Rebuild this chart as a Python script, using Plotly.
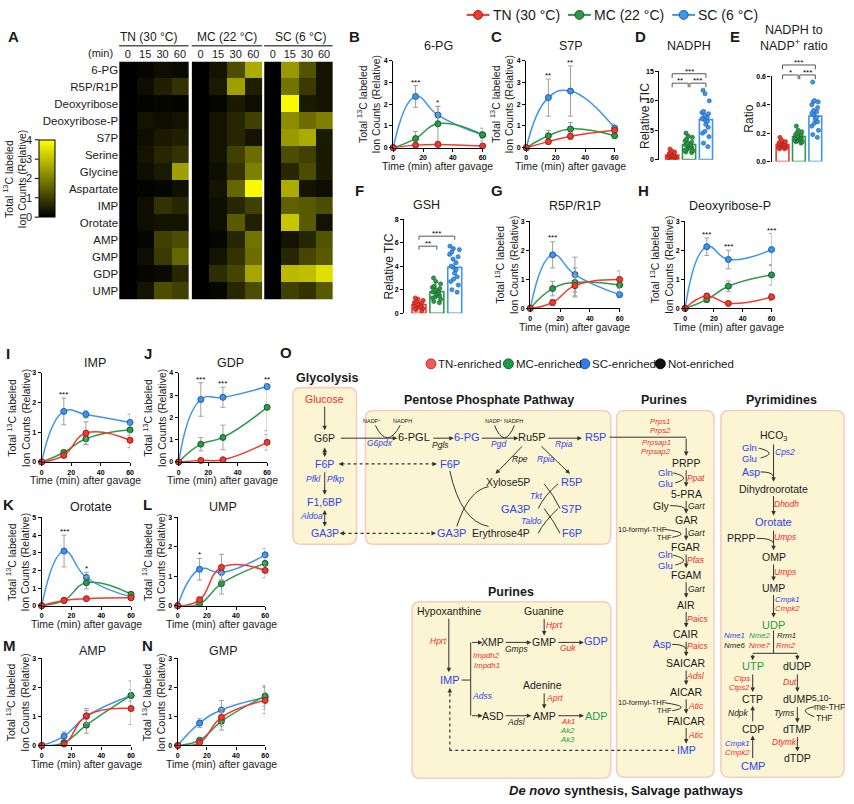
import plotly.graph_objects as go

W, H = 854, 804
FONT = "Liberation Sans, Arial, Helvetica, sans-serif"


def X(p):
    return p / W


def Y(p):
    return 1 - p / H


C = {'TN': '#f03a30', 'MC': '#2c9a48', 'SC': '#3d95ee'}
EDGE = {'TN': '#9e1c16', 'MC': '#145c28', 'SC': '#1b5aa8'}
BLUE = '#2d44ea'
RED = '#ee2d2d'
GREEN = '#23a04b'
K = '#1a1a1a'

# ---------------- data ----------------
times = [0, 15, 30, 60]
time_labels = ['0', '15', '30', '60']
groups = ['TN', 'MC', 'SC']
group_names = ['TN (30 °C)', 'MC (22 °C)', 'SC (6 °C)']

heat_rows = ['6-PG', 'R5P/R1P', 'Deoxyribose', 'Deoxyribose-P', 'S7P', 'Serine', 'Glycine',
             'Aspartate', 'IMP', 'Orotate', 'AMP', 'GMP', 'GDP', 'UMP']
heat_tn = [[0.0, 0.1, 0.2, 0.15], [0.0, 0.2, 0.5, 0.8], [0.0, 0.05, 0.1, 0.05], [0.0, 0.3, 0.2, 0.3],
           [0.0, 0.2, 0.4, 0.5], [0.0, 0.3, 0.6, 0.8], [0.0, 0.2, 0.4, 2.5], [0.0, 0.05, 0.1, 0.25],
           [0.0, 0.2, 0.8, 0.6], [0.0, 0.2, 0.3, 0.3], [0.0, 0.1, 1.0, 1.2], [0.0, 0.2, 0.9, 1.6],
           [0.0, 0.1, 0.15, 0.6], [0.0, 0.3, 1.2, 1.0]]
heat_mc = [[0.0, 0.3, 1.2, 2.7], [0.0, 0.4, 2.5, 0.5], [0.0, 0.1, 0.4, 0.2], [0.0, 0.3, 0.6, 1.0],
           [0.0, 0.3, 0.6, 0.3], [0.0, 0.3, 1.0, 1.7], [0.0, 0.2, 0.8, 2.0], [0.0, 0.3, 1.6, 3.9],
           [0.0, 0.2, 0.6, 1.0], [0.0, 0.2, 1.4, 0.5], [0.0, 0.1, 0.6, 1.8], [0.0, 0.3, 0.8, 1.7],
           [0.0, 0.7, 1.1, 2.6], [0.0, 0.1, 0.6, 1.2]]
heat_sc = [[0.0, 2.4, 1.3, 0.3], [0.0, 1.8, 0.9, 0.3], [0.0, 3.9, 0.4, 0.3], [0.0, 2.2, 1.7, 2.0],
           [0.0, 2.4, 2.7, 0.4], [0.0, 1.2, 1.0, 0.4], [0.0, 0.6, 1.2, 0.4], [0.0, 2.7, 0.3, 0.2],
           [0.0, 1.5, 1.4, 1.2], [0.0, 3.1, 1.4, 0.3], [0.0, 0.3, 0.6, 1.3], [0.0, 0.6, 1.1, 1.4],
           [0.0, 2.9, 3.0, 3.5], [0.0, 1.0, 0.8, 1.4]]
colorbar_ticks = [0, 1, 2, 3, 4]

pg6_mean = {'TN': [0, 0.12, 0.15, 0.08], 'MC': [0, 0.42, 1.1, 0.6], 'SC': [0, 2.35, 1.5, 0.58]}
pg6_err = {'TN': [0, 0.04, 0.05, 0.04], 'MC': [0, 0.33, 0.8, 0.3], 'SC': [0, 0.5, 0.4, 0.15]}
pg6_stars = [(15, 2.85, '***'), (30, 1.9, '*')]

s7p_mean = {'TN': [0, 0.28, 0.53, 0.8], 'MC': [0, 0.55, 0.86, 0.55], 'SC': [0, 2.3, 2.6, 0.9]}
s7p_err = {'TN': [0, 0.1, 0.15, 0.1], 'MC': [0, 0.25, 0.3, 0.1], 'SC': [0, 0.85, 1.15, 0.2]}
s7p_stars = [(15, 3.15, '**'), (30, 3.75, '**')]

r5p_mean = {'TN': [0, 0.2, 0.78, 0.99], 'MC': [0, 0.68, 0.89, 0.8], 'SC': [0, 1.84, 1.16, 0.47]}
r5p_err = {'TN': [0, 0.1, 0.35, 0.3], 'MC': [0, 0.25, 0.5, 0.3], 'SC': [0, 0.45, 0.6, 0.1]}
r5p_stars = [(15, 2.3, '***')]

drp_mean = {'TN': [0, 0.42, 0.17, 0.39], 'MC': [0, 0.3, 0.76, 1.15], 'SC': [0, 2.12, 1.68, 2.02]}
drp_err = {'TN': [0, 0.1, 0.05, 0.12], 'MC': [0, 0.1, 0.18, 0.35], 'SC': [0, 0.3, 0.32, 0.55]}
drp_stars = [(15, 2.42, '***'), (30, 2.0, '***'), (60, 2.57, '***')]

imp_mean = {'TN': [0, 0.22, 0.97, 0.73], 'MC': [0, 0.32, 0.78, 1.08], 'SC': [0, 1.7, 1.6, 1.33]}
imp_err = {'TN': [0, 0.05, 0.38, 0.25], 'MC': [0, 0.08, 0.2, 0.2], 'SC': [0, 0.45, 0.12, 0.28]}
imp_stars = [(15, 2.15, '***')]

gdp_mean = {'TN': [0, 0.07, 0.1, 0.88], 'MC': [0, 0.8, 1.1, 2.45], 'SC': [0, 2.8, 2.9, 3.38]}
gdp_err = {'TN': [0, 0.03, 0.05, 0.35], 'MC': [0, 0.3, 0.55, 1.05], 'SC': [0, 0.75, 0.45, 0.15]}
gdp_stars = [(15, 3.55, '***'), (30, 3.35, '***'), (60, 3.53, '**')]

oro_mean = {'TN': [0, 0.3, 0.4, 0.45], 'MC': [0, 0.3, 1.3, 0.65], 'SC': [0, 3.1, 1.6, 0.5]}
oro_err = {'TN': [0, 0.08, 0.1, 0.1], 'MC': [0, 0.08, 0.35, 0.15], 'SC': [0, 0.9, 0.3, 0.1]}
oro_stars = [(15, 4.0, '***'), (30, 1.9, '*')]

ump_mean = {'TN': [0, 0.2, 1.3, 1.2], 'MC': [0, 0.07, 0.75, 1.44], 'SC': [0, 1.24, 1.13, 1.73]}
ump_err = {'TN': [0, 0.1, 0.45, 0.25], 'MC': [0, 0.05, 0.35, 0.25], 'SC': [0, 0.37, 0.25, 0.22]}
ump_stars = [(15, 1.61, '*')]

amp_mean = {'TN': [0, 0.05, 1.02, 1.27], 'MC': [0, 0.1, 0.7, 1.72], 'SC': [0, 0.32, 1.0, 1.72]}
amp_err = {'TN': [0, 0.05, 0.25, 0.55], 'MC': [0, 0.05, 0.28, 0.2], 'SC': [0, 0.15, 0.2, 0.5]}

gmp_mean = {'TN': [0, 0.1, 0.97, 1.55], 'MC': [0, 0.18, 0.83, 1.7], 'SC': [0, 0.77, 1.22, 1.65]}
gmp_err = {'TN': [0, 0.05, 0.3, 0.45], 'MC': [0, 0.05, 0.3, 0.35], 'SC': [0, 0.15, 0.33, 0.4]}

nadph_tn = [1.8, 1.5, 1.3, 1.2, 1.0, 1.0, 0.9, 0.8, 0.8, 0.7, 0.6, 0.6, 0.5, 0.5, 0.4, 0.4, 0.3, 0.3]
nadph_mc = [4.5, 4.0, 3.8, 3.5, 3.2, 3.0, 2.8, 2.6, 2.5, 2.4, 2.3, 2.1, 2.0, 1.8, 1.6, 1.5, 1.3, 1.2]
nadph_sc = [11.8, 11.2, 10.0, 8.2, 8.0, 7.8, 7.5, 7.2, 7.0, 6.8, 6.5, 6.0, 5.5, 4.8, 4.5, 3.9, 2.8, 2.2]
nadph_bar = [0.8, 2.55, 6.8]
nadph_sem = [0.1, 0.2, 0.6]

ratio_tn = [0.17, 0.15, 0.14, 0.14, 0.13, 0.13, 0.13, 0.12, 0.12, 0.12, 0.11, 0.11, 0.11, 0.10, 0.10, 0.10, 0.09, 0.09]
ratio_mc = [0.25, 0.22, 0.21, 0.20, 0.19, 0.19, 0.18, 0.18, 0.17, 0.17, 0.17, 0.16, 0.16, 0.15, 0.15, 0.14, 0.14, 0.13]
ratio_sc = [0.56, 0.43, 0.42, 0.42, 0.40, 0.38, 0.36, 0.35, 0.34, 0.33, 0.31, 0.30, 0.28, 0.27, 0.25, 0.22, 0.19, 0.17]
ratio_bar = [0.12, 0.176, 0.32]
ratio_sem = [0.005, 0.008, 0.025]

gsh_tn = [1.3, 1.2, 1.1, 1.0, 0.9, 0.9, 0.8, 0.8, 0.7, 0.7, 0.6, 0.6, 0.5, 0.5, 0.4, 0.4, 0.3, 0.2]
gsh_mc = [3.0, 2.7, 2.5, 2.3, 2.2, 2.1, 2.0, 1.9, 1.8, 1.8, 1.7, 1.6, 1.5, 1.4, 1.3, 1.2, 1.0, 0.9]
gsh_sc = [5.7, 5.5, 5.4, 5.2, 5.0, 4.8, 4.6, 4.3, 4.0, 3.9, 3.7, 3.4, 3.1, 2.9, 2.7, 2.4, 2.0, 1.8]
gsh_bar = [0.72, 1.83, 3.9]
gsh_sem = [0.07, 0.12, 0.3]

# ---------------- figure scaffolding ----------------
fig = go.Figure()
layout = dict(width=W, height=H, margin=dict(l=0, r=0, t=0, b=0), paper_bgcolor='white',
              plot_bgcolor='rgba(0,0,0,0)', showlegend=False, font=dict(family=FONT, color=K))
ann = []
shapes = []
axn = [0]


def new_axes():
    axn[0] += 1
    n = axn[0]
    s = '' if n == 1 else str(n)
    return 'x' + s, 'y' + s, 'xaxis' + s, 'yaxis' + s


def T(x, y, s, size=10.5, color=K, xanchor='center', yanchor='middle', angle=0):
    ann.append(dict(x=X(x), y=Y(y), xref='paper', yref='paper', text=s, showarrow=False,
                    font=dict(size=size, color=color, family=FONT), xanchor=xanchor, yanchor=yanchor,
                    textangle=angle, borderpad=0))


def A(x0, y0, x1, y1, color='#333', both=False, size=0.9):
    ann.append(dict(x=X(x1), y=Y(y1), xref='paper', yref='paper', ax=x0 - x1, ay=y0 - y1,
                    axref='pixel', ayref='pixel', text='', showarrow=True, arrowhead=2, arrowsize=size,
                    arrowwidth=1, arrowcolor=color, arrowside='end+start' if both else 'end',
                    standoff=0, startstandoff=0))


def L(x0, y0, x1, y1, color='#333', dash=None, width=1):
    shapes.append(dict(type='line', xref='paper', yref='paper', x0=X(x0), y0=Y(y0), x1=X(x1), y1=Y(y1),
                       line=dict(color=color, width=width, dash=dash)))


def Q(x0, y0, cx, cy, x1, y1, color='#333', width=1):
    shapes.append(dict(type='path', xref='paper', yref='paper',
                       path=f"M {X(x0)},{Y(y0)} Q {X(cx)},{Y(cy)} {X(x1)},{Y(y1)}",
                       line=dict(color=color, width=width)))


def DA(x0, y, x1):
    L(x0 + 3, y, x1 - 3, y, dash='dot', width=1.2)
    A(x0 + 5, y, x0, y)
    A(x1 - 5, y, x1, y)


def RB(x0, y0, x1, y1, r=8):
    p = (f"M {X(x0 + r)},{Y(y0)} L {X(x1 - r)},{Y(y0)} Q {X(x1)},{Y(y0)} {X(x1)},{Y(y0 + r)} "
         f"L {X(x1)},{Y(y1 - r)} Q {X(x1)},{Y(y1)} {X(x1 - r)},{Y(y1)} L {X(x0 + r)},{Y(y1)} "
         f"Q {X(x0)},{Y(y1)} {X(x0)},{Y(y1 - r)} L {X(x0)},{Y(y0 + r)} Q {X(x0)},{Y(y0)} {X(x0 + r)},{Y(y0)} Z")
    shapes.append(dict(type='path', xref='paper', yref='paper', path=p, fillcolor='#fcf5d3',
                       line=dict(color='#f6cdc0', width=1.6), layer='below'))


def circ(cx, cy, r, fill, edge):
    shapes.append(dict(type='circle', xref='paper', yref='paper', x0=X(cx - r), x1=X(cx + r),
                       y0=Y(cy + r), y1=Y(cy - r), fillcolor=fill, line=dict(color=edge, width=1)))


AX_STYLE = dict(showline=True, linecolor='black', linewidth=1.3, ticks='outside', ticklen=3, tickwidth=1.2,
                tickcolor='black', tickfont=dict(size=7, weight='bold', color='black', family=FONT),
                showgrid=False, zeroline=False, fixedrange=True)

# ---------------- top legend ----------------
for g, name, lx in zip(groups, group_names, [468, 570, 675]):
    L(lx, 11, lx + 23, 11, color=C[g], width=2)
    circ(lx + 11.5, 11, 4.5, C[g], EDGE[g])
    T(lx + 25, 11, name, 14, xanchor='left')

# ---------------- panel A heatmap ----------------
heat_boxes = [(118, 188), (191, 262), (264, 333)]
cscale = [[0, '#000000'], [1, '#ffff00']]
for i, (z, (hx0, hx1)) in enumerate(zip([heat_tn, heat_mc, heat_sc], heat_boxes)):
    xr, yr, xk, yk = new_axes()
    layout[xk] = dict(domain=[X(hx0), X(hx1)], anchor=yr, side='top', type='category', ticks='',
                      tickfont=dict(size=11, color=K), showgrid=False, zeroline=False, showline=False,
                      fixedrange=True)
    layout[yk] = dict(domain=[Y(298), Y(58)], anchor=xr, autorange='reversed', type='category', ticks='',
                      showticklabels=(i == 0), tickfont=dict(size=11.5, color=K), showgrid=False,
                      zeroline=False, showline=False, fixedrange=True)
    tr = go.Heatmap(z=z, x=time_labels, y=heat_rows, colorscale=cscale, zmin=0, zmax=4, xaxis=xr, yaxis=yr,
                    showscale=(i == 0))
    if i == 0:
        tr.colorbar = dict(x=X(37), xanchor='left', y=Y(176), yanchor='middle', len=(215 - 137) / H,
                           lenmode='fraction', thickness=16, thicknessmode='pixels', outlinewidth=1,
                           outlinecolor='black', showticklabels=False, ticks='', xpad=0, ypad=0)
    fig.add_trace(tr)
    cx = (hx0 + hx1) / 2
    T(cx - (5 if i == 0 else 0) + (2 if i == 2 else 0), 33, group_names[i], 12)
    L(hx0, 42, hx1, 42, color='#555', width=1.5)
T(113, 49, '(min)', 11, xanchor='right')
for v in colorbar_ticks:
    yy = 215 - v * 19.5
    L(33, yy, 37, yy, color='black', width=1)
    T(31, yy, str(v), 11, xanchor='right')
T(13, 176, 'Total <sup>13</sup>C labeled<br>Ion Counts (Relative)', 10.5, angle=-90)
T(12, 33, '<b>A</b>', 15)


# ---------------- line panels ----------------
def line_panel(mean, err, stars, ymax, box, title, title_xy, letter, letter_xy, ytitle_x):
    x0, x1, yt, yb = box
    xr, yr, xk, yk = new_axes()
    layout[xk] = dict(domain=[X(x0), X(x1)], anchor=yr, range=[0, 60], tickvals=[0, 20, 40, 60], **AX_STYLE)
    layout[yk] = dict(domain=[Y(yb), Y(yt)], anchor=xr, range=[0, ymax], tickvals=list(range(0, ymax + 1)),
                      **AX_STYLE)
    for g in ['SC', 'MC', 'TN']:
        fig.add_trace(go.Scatter(x=times, y=mean[g], mode='lines+markers', cliponaxis=False,
                                 line=dict(color=C[g], width=1.5, shape='spline', smoothing=1.3),
                                 marker=dict(size=6, color=C[g], line=dict(color=EDGE[g], width=1)),
                                 error_y=dict(type='data', array=err[g], color='#a0a0a0', thickness=1,
                                              width=2.5),
                                 xaxis=xr, yaxis=yr))
    for sx, sy, s in stars:
        px_ = x0 + sx / 60 * (x1 - x0)
        py_ = yb - sy / ymax * (yb - yt)
        T(px_, py_ + 2, s, 8, 'black', yanchor='bottom')
    T(title_xy[0], title_xy[1], title, 12.5)
    T(letter_xy[0], letter_xy[1], '<b>' + letter + '</b>', 15)
    T(ytitle_x, (yt + yb) / 2, 'Total <sup>13</sup>C labeled<br>Ion Counts (Relative)', 10.5, angle=-90)
    T((x0 + x1) / 2, yb + 18.5, 'Time (min) after gavage', 10.5)


line_panel(pg6_mean, pg6_err, pg6_stars, 4, (394, 484, 57, 145), '6-PG', (440, 42), 'B', (355, 33), 369)
line_panel(s7p_mean, s7p_err, s7p_stars, 4, (528, 617, 57, 145), 'S7P', (573, 42), 'C', (498, 33), 503)
line_panel(r5p_mean, r5p_err, r5p_stars, 3, (532, 622, 219, 307), 'R5P/R1P', (577, 204), 'G', (499, 188), 508)
line_panel(drp_mean, drp_err, drp_stars, 3, (688, 775, 219, 307), 'Deoxyribose-P', (733, 204), 'H', (646, 188), 664)
line_panel(imp_mean, imp_err, imp_stars, 3, (40, 129, 372, 462), 'IMP', (94, 362), 'I', (6, 353), 16)
line_panel(gdp_mean, gdp_err, gdp_stars, 4, (178, 267, 372, 462), 'GDP', (230, 362), 'J', (147, 353), 153)
line_panel(oro_mean, oro_err, oro_stars, 5, (40, 130, 518, 607), 'Orotate', (90, 507), 'K', (7, 505), 16)
line_panel(ump_mean, ump_err, ump_stars, 3, (177, 265, 518, 607), 'UMP', (223, 507), 'L', (147, 505), 153)
line_panel(amp_mean, amp_err, [], 3, (40, 130, 660, 748), 'AMP', (91, 653), 'M', (8, 647), 16)
line_panel(gmp_mean, gmp_err, [], 3, (177, 265, 660, 748), 'GMP', (223, 653), 'N', (147, 647), 153)


# ---------------- bar panels ----------------
def bar_panel(points, means, sems, brackets, ymax, tickvals, ticktext, box, xmin, spacing, title, title_xy,
              letter, letter_xy, ytitle, ytitle_x):
    x0, yt, yb = box
    x1 = x0 + (2.6 - xmin) * spacing
    xr, yr, xk, yk = new_axes()
    layout[xk] = dict(domain=[X(x0), X(x1)], anchor=yr, range=[xmin, 2.6], visible=False, fixedrange=True)
    layout[yk] = dict(domain=[Y(yb), Y(yt)], anchor=xr, range=[0, ymax], tickvals=tickvals, ticktext=ticktext,
                      **AX_STYLE)
    fig.add_trace(go.Bar(x=[0, 1, 2], y=means, width=0.78, xaxis=xr, yaxis=yr,
                         marker=dict(color='white', line=dict(color=[C[g] for g in groups], width=1.6)),
                         error_y=dict(type='data', array=sems, color='#888', thickness=1, width=2)))
    for k, g in enumerate(groups):
        fig.add_trace(go.Box(x=[k] * len(points[k]), y=points[k], boxpoints='all', jitter=1, pointpos=0,
                             width=0.62, fillcolor='rgba(0,0,0,0)', line=dict(color='rgba(0,0,0,0)', width=0),
                             marker=dict(size=4.2, color=C[g], line=dict(color=EDGE[g], width=0.6)),
                             xaxis=xr, yaxis=yr))

    def bx(v):
        return x0 + (v - xmin) * spacing

    def by(v):
        return yb - v / ymax * (yb - yt)

    for xa, xb, yv, drop, s in brackets:
        shapes.append(dict(type='path', xref='paper', yref='paper',
                           path=(f"M {X(bx(xa))},{Y(by(yv - drop))} L {X(bx(xa))},{Y(by(yv))} "
                                 f"L {X(bx(xb))},{Y(by(yv))} L {X(bx(xb))},{Y(by(yv - drop))}"),
                           line=dict(color='#555', width=1)))
        T((bx(xa) + bx(xb)) / 2, by(yv) + 3, s, 8, 'black', yanchor='bottom')
    T(title_xy[0], title_xy[1], title, 12.5)
    T(letter_xy[0], letter_xy[1], '<b>' + letter + '</b>', 15)
    T(ytitle_x, (yt + yb) / 2, ytitle, 12, angle=-90)


bar_panel([nadph_tn, nadph_mc, nadph_sc], nadph_bar, nadph_sem,
          [(0, 0.95, 13.0, 0.7, '**'), (1.05, 2, 13.0, 0.7, '***'), (0, 2, 14.6, 0.7, '***')],
          15, [0, 5, 10, 15], ['0', '5', '10', '15'], (662, 68, 157), -0.76, 17,
          'NADPH', (692, 42), 'D', (643, 33), 'Relative TIC', 647)
bar_panel([ratio_tn, ratio_mc, ratio_sc], ratio_bar, ratio_sem,
          [(0, 0.95, 0.61, 0.03, '*'), (1.05, 2, 0.61, 0.03, '***'), (0, 2, 0.68, 0.03, '***')],
          0.6, [0, 0.2, 0.4, 0.6], ['0.0', '0.2', '0.4', '0.6'], (775, 73, 159), -0.67, 16.5,
          'NADPH to<br>NADP<sup>+</sup> ratio', (798, 34), 'E', (738, 33), 'Ratio', 752)
bar_panel([gsh_tn, gsh_mc, gsh_sc], gsh_bar, gsh_sem,
          [(0, 1, 5.7, 0.3, '**'), (0, 2, 6.55, 0.3, '***')],
          8, [0, 2, 4, 6, 8], ['0', '2', '4', '6', '8'], (405, 217, 312), -0.83, 18,
          'GSH', (427, 203), 'F', (360, 188), 'Relative TIC', 390)

# ---------------- panel O: pathway diagram ----------------
T(286, 352, '<b>O</b>', 15)
for cx_, fill, edge, lab in [(432, '#f25a5a', '#c03030', 'TN-enriched'), (510, '#1f9a46', '#116030', 'MC-enriched'),
                             (587, '#2f7fe6', '#1a55a8', 'SC-enriched'), (663, '#111111', '#000000', 'Not-enriched')]:
    circ(cx_, 363, 5, fill, edge)
    T(cx_ + 6.5, 363, lab, 11.5, xanchor='left')

MET = 10.5
GEN = 8.5
GS = 7.8   # stacked gene labels
PAIR = 9.6  # stacked small metabolite pairs (Gln/Glu)

# Glycolysis
RB(293, 387, 357, 545)
T(328, 377, '<b>Glycolysis</b>', 12.5)
T(325, 398, 'Glucose', MET, RED)
A(325, 405, 325, 430)
T(325, 438, 'G6P', MET)
A(325, 446, 325, 457, both=True)
T(325, 464, 'F6P', MET, BLUE)
A(325, 471, 325, 495)
T(314, 479, '<i>Pfkl</i>', GEN, BLUE)
T(336, 479, '<i>Pfkp</i>', GEN, BLUE)
T(325, 502, 'F1,6BP', MET, BLUE)
A(325, 509, 325, 527, both=True)
T(312, 517, '<i>Aldoa</i>', GEN, BLUE)
T(325, 534, 'GA3P', MET, BLUE)

# Pentose phosphate pathway
RB(366, 410, 613, 545)
T(490, 399, '<b>Pentose Phosphate Pathway</b>', 12.5)
A(340, 438, 398, 438)
T(373, 421, 'NADP<sup>+</sup>', 5.5)
T(403, 421, 'NADPH', 5.5)
Q(376, 425, 388, 450, 401, 425)
T(381, 443, '<i>G6pdx</i>', GEN, BLUE)
T(415, 437, '6-PGL', 11)
A(433, 438, 455, 438)
T(442, 445, '<i>Pgls</i>', GEN)
T(468, 437, '6-PG', 11, BLUE)
A(482, 438, 520, 438)
T(495, 421, 'NADP<sup>+</sup>', 5.5)
T(515, 421, 'NADPH', 5.5)
Q(496, 425, 506, 450, 516, 425)
T(500, 444, '<i>Pgd</i>', GEN, BLUE)
T(534, 437, 'Ru5P', 11)
A(549, 438, 584, 438)
T(566, 444, '<i>Rpia</i>', GEN, BLUE)
T(598, 437, 'R5P', 11, BLUE)
A(525, 445, 497, 474)
T(522, 459, '<i>Rpe</i>', GEN)
A(542, 445, 572, 474)
T(548, 459, '<i>Rpia</i>', GEN, BLUE)
T(451, 464, 'F6P', 11, BLUE)
T(510, 482, 'Xylose5P', MET)
T(574, 482, 'R5P', 11, BLUE)
T(538, 496, '<i>Tkt</i>', GEN, BLUE)
T(517, 509, 'GA3P', 11, BLUE)
T(574, 509, 'S7P', 11, BLUE)
T(533, 522, '<i>Taldo</i>', GEN, BLUE)
T(453, 534, 'GA3P', 11, BLUE)
T(503, 534, 'Erythrose4P', MET)
T(574, 534, 'F6P', 11, BLUE)
Q(546, 484, 556, 496, 562, 509)
Q(560, 484, 546, 496, 540, 509)
Q(546, 509, 556, 522, 562, 534)
Q(560, 509, 546, 522, 540, 534)
Q(451, 471, 462, 522, 490, 527)
Q(458, 527, 470, 490, 490, 487)
DA(339, 464, 438)
DA(340, 534, 437)

# Purines (de novo)
RB(619, 410, 717, 780)
T(667, 399, '<b>Purines</b>', 12.5)
T(663, 421, '<i>Prps1</i>', GS, RED)
T(663, 430, '<i>Prps2</i>', GS, RED)
T(659, 442, '<i>Prpsap1</i>', GS, RED)
T(659, 451, '<i>Prpsap2</i>', GS, RED)
L(612, 437, 689, 437)
A(689, 437, 689, 456)
chain = [('PRPP', 463, K), ('5-PRA', 494, K), ('GAR', 521, K), ('FGAR', 548, K), ('FGAM', 576, K),
         ('AIR', 606, K), ('CAIR', 636, K), ('SAICAR', 665, K), ('AICAR', 694, K), ('FAICAR', 723, K),
         ('IMP', 753, BLUE)]
for i, (lab, yy, col) in enumerate(chain):
    T(689, yy, lab, MET, col)
    if i < len(chain) - 1:
        A(689, yy + 6, 689, chain[i + 1][1] - 7)
T(668, 472.5, 'Gln', PAIR, BLUE)
T(668, 483.5, 'Glu', PAIR, BLUE)
Q(676, 473, 696, 478, 678, 483)
T(699, 478, '<i>Ppat</i>', GEN, RED)
T(664, 506, 'Gly', MET)
Q(673, 506, 688, 506, 689, 511)
T(699, 506, '<i>Gart</i>', GEN)
T(645, 530, '10-formyl-THF', 7.5)
T(667, 538, 'THF', 7.5)
Q(668, 530, 696, 534, 675, 538)
T(699, 534, '<i>Gart</i>', GEN)
T(668, 555.5, 'Gln', PAIR, BLUE)
T(668, 566.5, 'Glu', PAIR, BLUE)
Q(676, 556, 696, 561, 678, 566)
T(699, 561, '<i>Pfas</i>', GEN, RED)
T(699, 590, '<i>Gart</i>', GEN)
T(701, 620, '<i>Paics</i>', GEN, RED)
T(665, 646, 'Asp', MET, BLUE)
Q(675, 646, 688, 646, 689, 651)
T(701, 648, '<i>Paics</i>', GEN, RED)
T(698, 678, '<i>Adsl</i>', GEN, RED)
T(645, 705, '10-formyl-THF', 7.5)
T(667, 713, 'THF', 7.5)
Q(668, 705, 696, 709, 675, 713)
T(699, 708, '<i>Atic</i>', GEN, RED)
T(699, 737, '<i>Atic</i>', GEN, RED)
L(677, 753, 451, 753, dash='dot', width=1.2)
L(451, 753, 451, 694, dash='dot', width=1.2)
A(451, 696, 451, 690)

# Pyrimidines
RB(724, 410, 848, 780)
T(785, 399, '<b>Pyrimidines</b>', 12.5)
T(777, 436, 'HCO<sub>3</sub>', MET)
A(777, 443, 777, 482)
T(753, 447.5, 'Gln', PAIR, BLUE)
T(753, 458.5, 'Glu', PAIR, BLUE)
Q(762, 448, 782, 453, 764, 458)
T(789, 452, '<i>Cps2</i>', GEN, BLUE)
T(754, 472, 'Asp', MET, BLUE)
Q(764, 472, 776, 472, 777, 477)
T(777, 489, 'Dihydroorotate', MET)
A(777, 495, 777, 516)
T(790, 504, '<i>Dhodh</i>', GEN, RED)
T(777, 523, 'Orotate', 11, BLUE)
A(777, 530, 777, 551)
T(745, 539, 'PRPP', MET)
Q(760, 539, 776, 539, 777, 544)
T(789, 538, '<i>Umps</i>', GEN, RED)
T(777, 558, 'OMP', MET)
A(777, 564, 777, 582)
T(789, 573, '<i>Umps</i>', GEN, RED)
T(777, 589, 'UMP', MET)
A(777, 595, 777, 619)
T(791, 601, '<i>Cmpk1</i>', GS, BLUE)
T(791, 610, '<i>Cmpk2</i>', GS, RED)
T(777, 626, 'UDP', 11, GREEN)
L(777, 632, 777, 655)
L(756, 655, 801, 655)
A(756, 655, 756, 662)
A(801, 655, 801, 662)
T(738, 637, '<i>Nme1</i>', GS, BLUE)
T(763, 637, '<i>Nme2</i>', GS, GREEN)
T(790, 637, '<i>Rrm1</i>', GS)
T(738, 647, '<i>Nme6</i>', GS)
T(763, 647, '<i>Nme7</i>', GS, RED)
T(790, 647, '<i>Rrm2</i>', GS, RED)
T(756, 668, 'UTP', 11, GREEN)
T(801, 668, 'dUDP', MET)
A(756, 675, 756, 694)
T(745, 680, '<i>Ctps</i>', GS, RED)
T(743, 689, '<i>Ctps2</i>', GS, RED)
A(801, 675, 801, 694)
T(794, 684, '<i>Dut</i>', GEN, RED)
T(756, 701, 'CTP', MET)
T(801, 701, 'dUMP', MET)
T(826, 700, '5,10-', 8.5)
A(756, 725, 756, 708)
T(742, 715, '<i>Ndpk</i>', GEN)
A(801, 708, 801, 725)
T(788, 715, '<i>Tyms</i>', GEN)
T(833, 709, 'me-THF', 8.5)
T(828, 720, 'THF', 8.5)
Q(818, 709, 800, 712, 818, 719)
T(756, 731, 'CDP', MET)
T(801, 731, 'dTMP', MET)
A(756, 762, 756, 738)
T(741, 746, '<i>Cmpk1</i>', GS, BLUE)
T(741, 755, '<i>Cmpk2</i>', GS, RED)
A(801, 738, 801, 754)
T(788, 744, '<i>Dtymk</i>', GEN, RED)
T(756, 769, 'CMP', 11, BLUE)
T(801, 761, 'dTDP', MET)

# Purines (salvage)
RB(413, 603, 613, 781)
T(513, 593, '<b>Purines</b>', 12.5)
T(450, 612, 'Hypoxanthine', MET)
A(450, 619, 450, 674)
T(440, 643, '<i>Hprt</i>', GEN, RED)
T(451, 682, 'IMP', 11, BLUE)
L(463, 682, 472, 682)
L(472, 644, 472, 718)
A(472, 644, 484, 644)
A(472, 718, 484, 718)
T(494, 644, 'XMP', MET)
A(506, 644, 533, 644)
T(518, 651, '<i>Gmps</i>', GEN)
T(546, 644, 'GMP', MET)
T(488, 657, '<i>Impdh2</i>', GS, RED)
T(488, 667, '<i>Impdh1</i>', GS, RED)
T(484, 698, '<i>Adss</i>', GEN, BLUE)
T(494, 718, 'ASD', MET)
A(506, 718, 533, 718)
T(518, 724, '<i>Adsl</i>', GEN)
T(546, 718, 'AMP', MET)
T(546, 612, 'Guanine', MET)
A(546, 619, 546, 637)
T(556, 626, '<i>Hprt</i>', GEN, RED)
T(544, 687, 'Adenine', MET)
A(546, 694, 546, 711)
T(556, 700, '<i>Aprt</i>', GEN, RED)
A(559, 644, 586, 644)
T(570, 650, '<i>Guk</i>', GEN, RED)
T(598, 643, 'GDP', 11, BLUE)
A(559, 718, 586, 718)
T(570, 724, '<i>Ak1</i>', GS, RED)
T(570, 733, '<i>Ak2</i>', GS, GREEN)
T(570, 742, '<i>Ak3</i>', GS, GREEN)
T(599, 718, 'ADP', 11, GREEN)

T(628, 793, '<b><i>De novo</i> synthesis, Salvage pathways</b>', 13)

layout['annotations'] = ann
layout['shapes'] = shapes
fig.update_layout(**layout)
fig.write_html("out.html", config={'displayModeBar': False},
               post_script="document.body.style.margin='0';")
